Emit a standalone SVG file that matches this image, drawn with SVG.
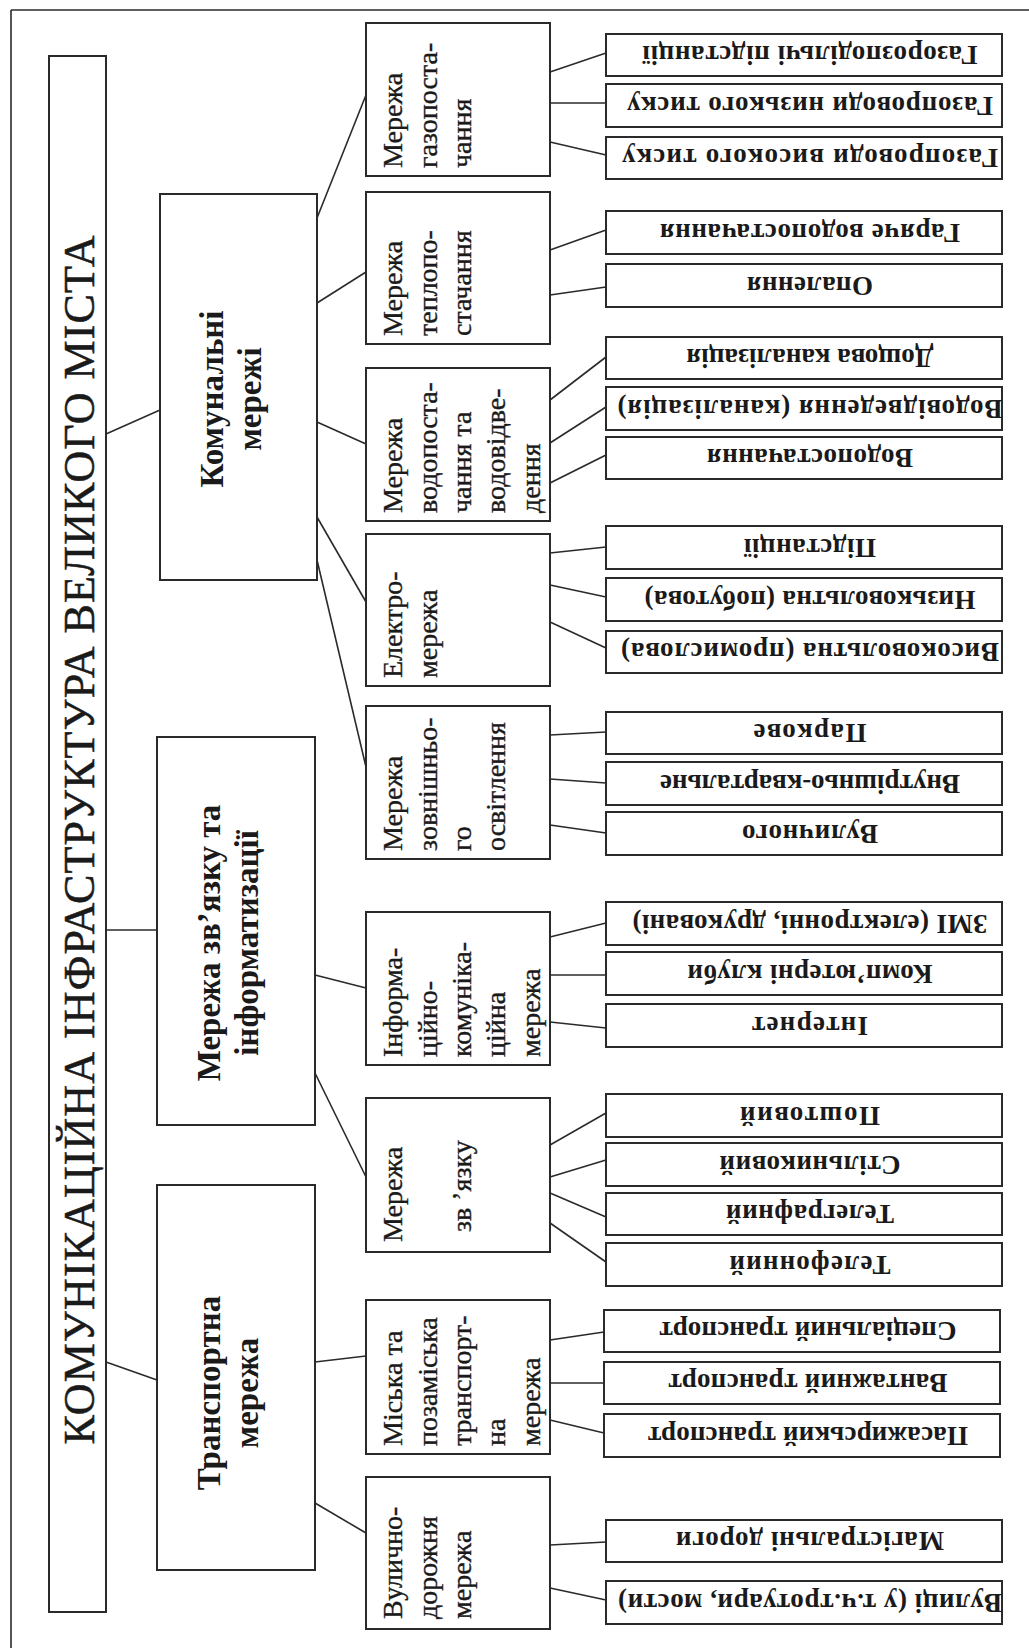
<svg xmlns="http://www.w3.org/2000/svg" width="1029" height="1648" viewBox="0 0 1029 1648">
<style>
.bx{fill:#fff;stroke:#2a2a2a;stroke-width:2}
.ln{stroke:#2a2a2a;stroke-width:1.6;fill:none}
.t{font-family:"Liberation Serif","DejaVu Serif",serif;fill:#1a1a1a}
.ttl{font-size:44px;text-anchor:middle;stroke:#1a1a1a;stroke-width:0.5}
.l1{font-size:33px;font-weight:bold;text-anchor:middle}
.l2{font-size:28px;stroke:#1a1a1a;stroke-width:0.35}
.lf{font-size:27px;font-weight:bold;text-anchor:middle}
</style>
<rect x="0" y="0" width="1029" height="1648" fill="#fff"/>
<g id="frame" class="ln"><line x1="11" y1="10" x2="1029" y2="10"/><line x1="11" y1="10" x2="11" y2="1648"/></g>

<g id="connectors" class="ln">
<line x1="106" y1="434" x2="160" y2="410"/>
<line x1="106" y1="930" x2="157" y2="930"/>
<line x1="106" y1="1362" x2="157" y2="1380"/>
<line x1="317" y1="218" x2="366" y2="95"/>
<line x1="317" y1="303" x2="366" y2="272"/>
<line x1="317" y1="422" x2="366" y2="444"/>
<line x1="317" y1="517" x2="366" y2="602"/>
<line x1="317" y1="560" x2="366" y2="767"/>
<line x1="315" y1="975" x2="366" y2="988"/>
<line x1="315" y1="1073" x2="366" y2="1177"/>
<line x1="315" y1="1362" x2="366" y2="1356"/>
<line x1="315" y1="1503" x2="366" y2="1533"/>
<line x1="550" y1="72" x2="606" y2="53"/>
<line x1="550" y1="103" x2="606" y2="103"/>
<line x1="550" y1="142" x2="606" y2="155"/>
<line x1="550" y1="250" x2="606" y2="230"/>
<line x1="550" y1="295" x2="606" y2="287"/>
<line x1="550" y1="400" x2="606" y2="357"/>
<line x1="550" y1="443" x2="606" y2="407"/>
<line x1="550" y1="483" x2="606" y2="455"/>
<line x1="550" y1="553" x2="606" y2="547"/>
<line x1="550" y1="585" x2="606" y2="597"/>
<line x1="550" y1="622" x2="606" y2="648"/>
<line x1="550" y1="735" x2="606" y2="732"/>
<line x1="550" y1="779" x2="606" y2="783"/>
<line x1="550" y1="825" x2="606" y2="833"/>
<line x1="550" y1="937" x2="606" y2="923"/>
<line x1="550" y1="975" x2="606" y2="975"/>
<line x1="550" y1="1022" x2="606" y2="1028"/>
<line x1="550" y1="1145" x2="606" y2="1113"/>
<line x1="550" y1="1177" x2="606" y2="1160"/>
<line x1="550" y1="1193" x2="606" y2="1217"/>
<line x1="550" y1="1223" x2="606" y2="1262"/>
<line x1="550" y1="1340" x2="604" y2="1332"/>
<line x1="550" y1="1383" x2="604" y2="1383"/>
<line x1="550" y1="1420" x2="604" y2="1433"/>
<line x1="550" y1="1545" x2="606" y2="1542"/>
<line x1="550" y1="1588" x2="606" y2="1600"/>
</g>

<g id="root">
<rect class="bx" x="49" y="56" width="57" height="1556"/>
<text class="t ttl" x="94" y="840" textLength="1209" transform="rotate(-90 94 840)">КОМУНІКАЦІЙНА ІНФРАСТРУКТУРА ВЕЛИКОГО МІСТА</text>
</g>

<g id="n-komunalni">
<rect class="bx" x="160" y="194" width="157" height="386"/>
<text class="t l1" transform="translate(223 399) rotate(-90)">Комунальні</text>
<text class="t l1" transform="translate(261 399) rotate(-90)">мережі</text>
</g>
<g id="n-zviazok-inf">
<rect class="bx" x="157" y="737" width="158" height="388"/>
<text class="t l1" transform="translate(220 943) rotate(-90)">Мережа зв’язку та</text>
<text class="t l1" transform="translate(258 943) rotate(-90)">інформатизації</text>
</g>
<g id="n-transport">
<rect class="bx" x="157" y="1185" width="158" height="385"/>
<text class="t l1" transform="translate(220 1393) rotate(-90)">Транспортна</text>
<text class="t l1" transform="translate(258 1393) rotate(-90)">мережа</text>
</g>

<g id="n-gas">
<rect class="bx" x="366" y="23" width="184" height="153"/>
<text class="t l2" transform="translate(402 168) rotate(-90)">Мережа</text>
<text class="t l2" transform="translate(437 168) rotate(-90)">газопоста-</text>
<text class="t l2" transform="translate(471 168) rotate(-90)">чання</text>
</g>
<g id="n-heat">
<rect class="bx" x="366" y="192" width="184" height="152"/>
<text class="t l2" transform="translate(402 336) rotate(-90)">Мережа</text>
<text class="t l2" transform="translate(437 336) rotate(-90)">теплопо-</text>
<text class="t l2" transform="translate(471 336) rotate(-90)">стачання</text>
</g>
<g id="n-water">
<rect class="bx" x="366" y="368" width="184" height="153"/>
<text class="t l2" transform="translate(402 513) rotate(-90)">Мережа</text>
<text class="t l2" transform="translate(437 513) rotate(-90)">водопоста-</text>
<text class="t l2" transform="translate(471 513) rotate(-90)">чання та</text>
<text class="t l2" transform="translate(505 513) rotate(-90)">водовідве-</text>
<text class="t l2" transform="translate(540 513) rotate(-90)">дення</text>
</g>
<g id="n-electro">
<rect class="bx" x="366" y="534" width="184" height="152"/>
<text class="t l2" transform="translate(402 678) rotate(-90)">Електро-</text>
<text class="t l2" transform="translate(437 678) rotate(-90)">мережа</text>
</g>
<g id="n-light">
<rect class="bx" x="366" y="706" width="184" height="153"/>
<text class="t l2" transform="translate(402 851) rotate(-90)">Мережа</text>
<text class="t l2" transform="translate(437 851) rotate(-90)">зовнішньо-</text>
<text class="t l2" transform="translate(471 851) rotate(-90)">го</text>
<text class="t l2" transform="translate(505 851) rotate(-90)">освітлення</text>
</g>
<g id="n-info">
<rect class="bx" x="366" y="912" width="184" height="153"/>
<text class="t l2" transform="translate(402 1057) rotate(-90)">Інформа-</text>
<text class="t l2" transform="translate(437 1057) rotate(-90)">ційно-</text>
<text class="t l2" transform="translate(471 1057) rotate(-90)">комуніка-</text>
<text class="t l2" transform="translate(505 1057) rotate(-90)">ційна</text>
<text class="t l2" transform="translate(540 1057) rotate(-90)">мережа</text>
</g>
<g id="n-zviazok">
<rect class="bx" x="366" y="1098" width="184" height="154"/>
<text class="t l2" transform="translate(402 1242) rotate(-90)">Мережа</text>
<text class="t l2" transform="translate(471 1232) rotate(-90)">зв ’язку</text>
</g>
<g id="n-miska">
<rect class="bx" x="366" y="1300" width="184" height="154"/>
<text class="t l2" transform="translate(402 1446) rotate(-90)">Міська та</text>
<text class="t l2" transform="translate(437 1446) rotate(-90)">позаміська</text>
<text class="t l2" transform="translate(471 1446) rotate(-90)">транспорт-</text>
<text class="t l2" transform="translate(505 1446) rotate(-90)">на</text>
<text class="t l2" transform="translate(540 1446) rotate(-90)">мережа</text>
</g>
<g id="n-vul">
<rect class="bx" x="366" y="1477" width="184" height="152"/>
<text class="t l2" transform="translate(402 1619) rotate(-90)">Вулично-</text>
<text class="t l2" transform="translate(437 1619) rotate(-90)">дорожня</text>
<text class="t l2" transform="translate(471 1619) rotate(-90)">мережа</text>
</g>

<g id="leaf-1"><rect class="bx" x="606" y="34" width="396" height="42"/><text class="t lf" x="810" y="64" textLength="335" transform="rotate(180 810 55)">Газорозподільчі підстанції</text></g>
<g id="leaf-2"><rect class="bx" x="606" y="84" width="396" height="43"/><text class="t lf" x="810" y="114.5" textLength="366" transform="rotate(180 810 105.5)">Газопроводи  низького тиску</text></g>
<g id="leaf-3"><rect class="bx" x="606" y="137" width="396" height="42"/><text class="t lf" x="810" y="167" textLength="376" transform="rotate(180 810 158)">Газопроводи  високого тиску</text></g>
<g id="leaf-4"><rect class="bx" x="606" y="211" width="396" height="43"/><text class="t lf" x="810" y="241.5" textLength="300" transform="rotate(180 810 232.5)">Гаряче водопостачання</text></g>
<g id="leaf-5"><rect class="bx" x="606" y="264" width="396" height="43"/><text class="t lf" x="810" y="294.5" textLength="126" transform="rotate(180 810 285.5)">Опалення</text></g>
<g id="leaf-6"><rect class="bx" x="606" y="337" width="396" height="42"/><text class="t lf" x="810" y="367" textLength="247" transform="rotate(180 810 358)">Дощова каналізація</text></g>
<g id="leaf-7"><rect class="bx" x="606" y="387" width="396" height="43"/><text class="t lf" x="810" y="417.5" textLength="385" transform="rotate(180 810 408.5)">Водовідведення (каналізація)</text></g>
<g id="leaf-8"><rect class="bx" x="606" y="437" width="396" height="42"/><text class="t lf" x="810" y="467" textLength="206" transform="rotate(180 810 458)">Водопостачання</text></g>
<g id="leaf-9"><rect class="bx" x="606" y="526" width="396" height="43"/><text class="t lf" x="810" y="556.5" textLength="132" transform="rotate(180 810 547.5)">Підстанції</text></g>
<g id="leaf-10"><rect class="bx" x="606" y="578" width="396" height="43"/><text class="t lf" x="810" y="608.5" textLength="331" transform="rotate(180 810 599.5)">Низьковольтна (побутова)</text></g>
<g id="leaf-11"><rect class="bx" x="606" y="631" width="396" height="42"/><text class="t lf" x="810" y="661" textLength="378" transform="rotate(180 810 652)">Високовольтна (промислова)</text></g>
<g id="leaf-12"><rect class="bx" x="606" y="712" width="396" height="42"/><text class="t lf" x="810" y="742" textLength="113" transform="rotate(180 810 733)">Паркове</text></g>
<g id="leaf-13"><rect class="bx" x="606" y="762" width="396" height="43"/><text class="t lf" x="810" y="792.5" textLength="300" transform="rotate(180 810 783.5)">Внутрішньо-квартальне</text></g>
<g id="leaf-14"><rect class="bx" x="606" y="812" width="396" height="43"/><text class="t lf" x="810" y="842.5" textLength="136" transform="rotate(180 810 833.5)">Вуличного</text></g>
<g id="leaf-15"><rect class="bx" x="606" y="902" width="396" height="43"/><text class="t lf" x="810" y="932.5" textLength="355" transform="rotate(180 810 923.5)">ЗМІ (електронні, друковані)</text></g>
<g id="leaf-16"><rect class="bx" x="606" y="952" width="396" height="43"/><text class="t lf" x="810" y="982.5" textLength="245" transform="rotate(180 810 973.5)">Комп’ютерні клуби</text></g>
<g id="leaf-17"><rect class="bx" x="606" y="1004" width="396" height="43"/><text class="t lf" x="810" y="1034.5" textLength="116" transform="rotate(180 810 1025.5)">Інтернет</text></g>
<g id="leaf-18"><rect class="bx" x="606" y="1094" width="396" height="43"/><text class="t lf" x="810" y="1124.5" textLength="140" transform="rotate(180 810 1115.5)">Поштовий</text></g>
<g id="leaf-19"><rect class="bx" x="606" y="1143" width="396" height="43"/><text class="t lf" x="810" y="1173.5" textLength="181" transform="rotate(180 810 1164.5)">Стільниковий</text></g>
<g id="leaf-20"><rect class="bx" x="606" y="1193" width="396" height="42"/><text class="t lf" x="810" y="1223" textLength="168" transform="rotate(180 810 1214)">Телеграфний</text></g>
<g id="leaf-21"><rect class="bx" x="606" y="1243" width="396" height="43"/><text class="t lf" x="810" y="1273.5" textLength="161" transform="rotate(180 810 1264.5)">Телефонний</text></g>
<g id="leaf-22"><rect class="bx" x="604" y="1310" width="396" height="42"/><text class="t lf" x="808" y="1340" textLength="297" transform="rotate(180 808 1331)">Спеціальний транспорт</text></g>
<g id="leaf-23"><rect class="bx" x="604" y="1362" width="396" height="42"/><text class="t lf" x="808" y="1392" textLength="279" transform="rotate(180 808 1383)">Вантажний транспорт</text></g>
<g id="leaf-24"><rect class="bx" x="604" y="1414" width="396" height="43"/><text class="t lf" x="808" y="1444.5" textLength="320" transform="rotate(180 808 1435.5)">Пасажирський транспорт</text></g>
<g id="leaf-25"><rect class="bx" x="606" y="1520" width="396" height="42"/><text class="t lf" x="810" y="1550" textLength="268" transform="rotate(180 810 1541)">Магістральні дороги</text></g>
<g id="leaf-26"><rect class="bx" x="606" y="1581" width="396" height="43"/><text class="t lf" x="810" y="1611.5" textLength="384" transform="rotate(180 810 1602.5)">Вулиці (у т.ч.тротуари, мости)</text></g>
</svg>
